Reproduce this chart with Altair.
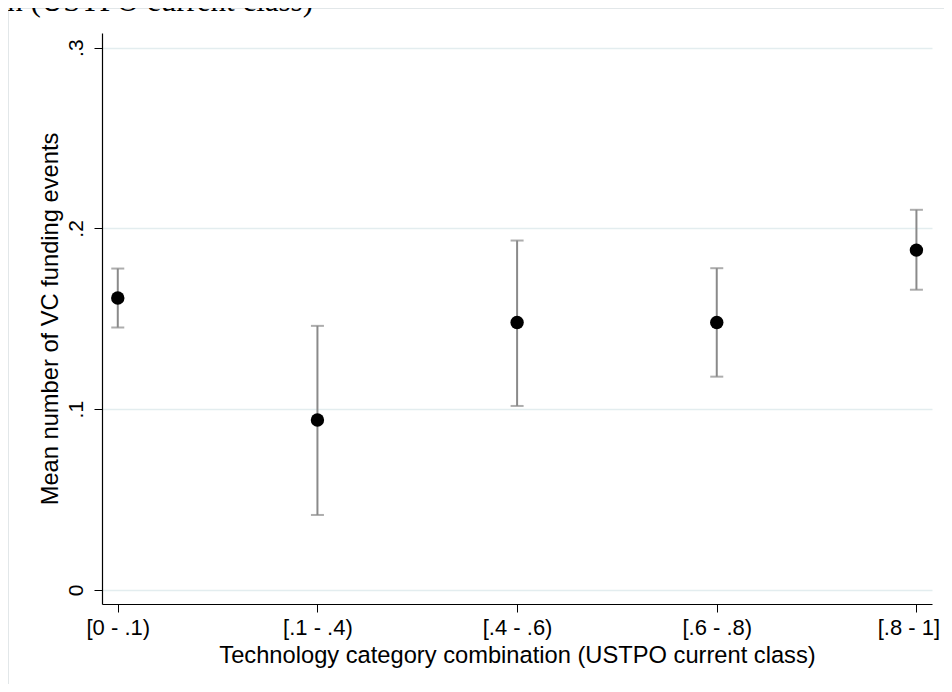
import altair as alt
import pandas as pd

categories = ["[0 - .1)", "[.1 - .4)", "[.4 - .6)", "[.6 - .8)", "[.8 - 1]"]
positions = [0, 1, 2, 3, 4]
means = [0.1615, 0.094, 0.148, 0.148, 0.188]
lowers = [0.1452, 0.0415, 0.1018, 0.118, 0.1661]
uppers = [0.1778, 0.1461, 0.1933, 0.178, 0.2103]
y_ticks = [0, 0.1, 0.2, 0.3]

df = pd.DataFrame({"pos": positions, "cat": categories, "mean": means,
                   "lo": lowers, "hi": uppers})

FONT = "Liberation Sans"
W, H = 830, 571

label_expr = "{" + ",".join(f"'{p}':'{c}'" for p, c in zip(positions, categories)) + "}[datum.value]"

xscale = alt.Scale(domain=[-0.079, 4.078], nice=False, zero=False)
yscale = alt.Scale(domain=[-0.00775, 0.3081], nice=False, zero=False)

x_enc = alt.X("pos:Q", scale=xscale,
              axis=alt.Axis(values=positions, labelExpr=label_expr,
                            title="Technology category combination (USTPO current class)",
                            grid=False, tickSize=8, tickColor="#000", tickWidth=1,
                            domainColor="#000", domainWidth=1.2,
                            labelFont=FONT, labelFontSize=22, labelColor="#000",
                            labelPadding=5, labelFlush=False,
                            labelOffset={"condition": {"test": "datum.value == 4", "value": -8}, "value": 0},
                            titleFont=FONT, titleFontSize=23.7, titleFontWeight="normal",
                            titleColor="#000", titleBaseline="alphabetic",
                            titleY=58, titleX=W / 2))
y_enc = alt.Y("mean:Q", scale=yscale,
              axis=alt.Axis(values=y_ticks, labelExpr="datum.value == 0 ? '0' : replace(format(datum.value, '.1f'), '0.', '.')",
                            title="Mean number of VC funding events",
                            grid=True, gridColor="#e3edef", gridWidth=1.6,
                            tickSize=8, tickColor="#000", tickWidth=1,
                            domainColor="#000", domainWidth=1.2,
                            labelFont=FONT, labelFontSize=21, labelColor="#000",
                            labelAngle=270, labelAlign="center", labelBaseline="bottom",
                            labelPadding=8,
                            titleFont=FONT, titleFontSize=23.7, titleFontWeight="normal",
                            titleColor="#000", titleAngle=270, titleAlign="center",
                            titleBaseline="bottom", titleX=-40, titleY=H / 2))

base = alt.Chart(df)

bars = base.mark_rule(color="#8a8a8a", strokeWidth=2).encode(
    x=x_enc, y=alt.Y("lo:Q", scale=yscale), y2="hi:Q")
caps_hi = base.mark_tick(color="#8a8a8a", orient="horizontal", size=13, thickness=2).encode(
    x=alt.X("pos:Q", scale=xscale), y=alt.Y("hi:Q", scale=yscale))
caps_lo = base.mark_tick(color="#8a8a8a", orient="horizontal", size=13, thickness=2).encode(
    x=alt.X("pos:Q", scale=xscale), y=alt.Y("lo:Q", scale=yscale))
dots = base.mark_circle(color="#000", opacity=1, size=180).encode(
    x=alt.X("pos:Q", scale=xscale), y=y_enc)

caption = alt.Chart(pd.DataFrame({"t": ["n (USTPO current class)"]})).mark_text(
    font="Liberation Serif", fontSize=31, align="right", baseline="alphabetic", color="#000"
).encode(text="t:N", x=alt.value(211), y=alt.value(-22))

frame = alt.Chart(pd.DataFrame({"t": [0]})).mark_rect(
    fill=None, stroke="#e2e7e9", strokeWidth=1
).encode(x=alt.value(-93.5), x2=alt.value(W + 200), y=alt.value(-24.5), y2=alt.value(H + 200))

chart = alt.layer(frame, bars, caps_hi, caps_lo, dots, caption).properties(
    width=W, height=H,
    autosize=alt.AutoSizeParams(type="none"),
    padding={"left": 94, "top": 25, "right": 12, "bottom": 80},
    background="white",
).configure_view(stroke=None)

chart.save("out.html", embed_options={"renderer": "svg", "actions": False})
